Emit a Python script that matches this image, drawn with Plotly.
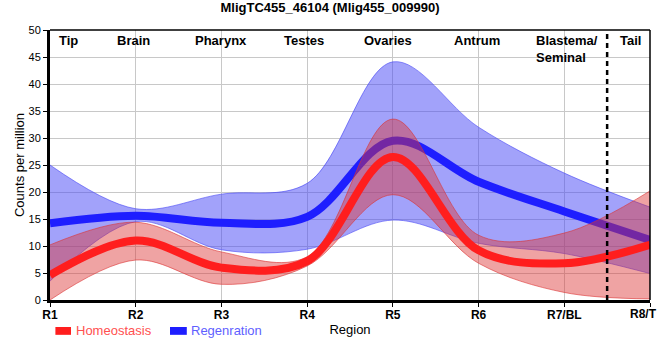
import plotly.graph_objects as go

# ---- data ----
regions = ["R1", "R2", "R3", "R4", "R5", "R6", "R7/BL", "R8/T"]
region_pos = [1, 2, 3, 4, 5, 6, 7, 8]

homeo_mean = [4.6, 11.0, 6.0, 7.2, 26.5, 9.2, 6.8, 10.2]
homeo_upper = [10.2, 14.4, 8.9, 8.0, 33.5, 12.0, 12.4, 20.2]
homeo_lower = [0.0, 7.4, 2.9, 6.3, 19.5, 6.8, 1.4, 0.2]

regen_mean = [14.2, 15.6, 14.3, 15.4, 29.5, 21.9, 16.4, 11.1]
regen_upper = [25.0, 16.9, 19.6, 21.6, 44.1, 32.0, 23.5, 17.2]
regen_lower = [3.5, 14.5, 9.3, 9.4, 14.8, 10.5, 8.6, 4.9]

anatomy_labels = ["Tip", "Brain", "Pharynx", "Testes", "Ovaries", "Antrum",
                  "Blastema/<br>Seminal", "Tail"]
boundary_x = 7.5

# ---- styling ----
RED = "rgb(255,30,30)"
BLUE = "rgb(30,30,255)"
RED_FILL = "rgba(220,50,50,0.45)"
BLUE_FILL = "rgba(70,70,245,0.5)"
FONT = "Liberation Sans, Arial, sans-serif"

fig = go.Figure()

def band(lower, upper, fill, edge):
    fig.add_trace(go.Scatter(x=region_pos, y=lower, mode="lines",
                             line=dict(color=edge, width=1, shape="spline", smoothing=1),
                             showlegend=False, hoverinfo="skip"))
    fig.add_trace(go.Scatter(x=region_pos, y=upper, mode="lines", fill="tonexty",
                             fillcolor=fill,
                             line=dict(color=edge, width=1, shape="spline", smoothing=1),
                             showlegend=False, hoverinfo="skip"))

band(regen_lower, regen_upper, BLUE_FILL, "rgba(70,70,245,0.6)")
fig.add_trace(go.Scatter(x=region_pos, y=regen_mean, mode="lines", name="Regenration",
                         line=dict(color=BLUE, width=8, shape="spline", smoothing=1),
                         showlegend=False))
band(homeo_lower, homeo_upper, RED_FILL, "rgba(220,50,50,0.6)")
fig.add_trace(go.Scatter(x=region_pos, y=homeo_mean, mode="lines", name="Homeostasis",
                         line=dict(color=RED, width=8, shape="spline", smoothing=1),
                         showlegend=False))

# anatomical labels along the top
label_x = [1.22, 1.97, 2.99, 3.96, 4.94, 5.98, 6.65, 7.77]
annotations = []
for lab, lx in zip(anatomy_labels, label_x):
    multi = "<br>" in lab
    annotations.append(dict(x=lx, y=1.0, xref="x", yref="paper", text="<b>" + lab + "</b>",
                            showarrow=False, xanchor="left" if multi else "center",
                            yanchor="top", align="left", yshift=-1,
                            font=dict(size=13, color="black", family=FONT)))

# last region tick label, nudged left so it stays inside the picture
annotations.append(dict(x=region_pos[-1], y=0, xref="x", yref="paper",
                        text="<b>" + regions[-1] + "</b>", showarrow=False,
                        xanchor="right", yanchor="top", yshift=-5, xshift=9,
                        font=dict(size=12, color="black", family=FONT)))

# manual legend
annotations.append(dict(x=0.04, y=-0.114, xref="paper", yref="paper", text="Homeostasis",
                        showarrow=False, xanchor="left", yanchor="middle",
                        font=dict(size=13, color="rgb(255,80,80)", family=FONT)))
annotations.append(dict(x=0.232, y=-0.114, xref="paper", yref="paper", text="Regenration",
                        showarrow=False, xanchor="left", yanchor="middle",
                        font=dict(size=13, color="rgb(95,95,255)", family=FONT)))

shapes = [
    dict(type="rect", xref="paper", yref="paper", x0=0.009, x1=0.035, y0=-0.1, y1=-0.129,
         fillcolor=RED, line=dict(width=0)),
    dict(type="rect", xref="paper", yref="paper", x0=0.2, x1=0.228, y0=-0.1, y1=-0.129,
         fillcolor=BLUE, line=dict(width=0)),
    dict(type="line", xref="x", yref="paper", x0=boundary_x, x1=boundary_x, y0=0, y1=1,
         line=dict(color="black", width=2.5, dash="5px,4px"), layer="above"),
    dict(type="line", xref="paper", yref="paper", x0=0, x1=1, y0=1, y1=1,
         line=dict(color="black", width=1.5)),
    dict(type="line", xref="paper", yref="paper", x0=1, x1=1, y0=0, y1=1,
         line=dict(color="black", width=1.5)),
]

fig.update_layout(
    width=660, height=360,
    margin=dict(l=50, r=10, t=30, b=60, autoexpand=False),
    paper_bgcolor="white", plot_bgcolor="white",
    font=dict(family=FONT, color="black"),
    title=dict(text="<b>MligTC455_46104 (Mlig455_009990)</b>", x=0.5, xanchor="center",
               y=0.978, yanchor="middle", font=dict(size=13, color="black", family=FONT)),
    showlegend=False,
    annotations=annotations,
    shapes=shapes,
)

tick_text = ["<b>" + r + "</b>" for r in regions[:-1]] + [""]
fig.update_xaxes(range=[1, 8], tickvals=region_pos, ticktext=tick_text,
                 tickfont=dict(size=12, color="black", family=FONT),
                 showgrid=True, gridcolor="rgb(200,200,200)", gridwidth=1,
                 showline=True, linecolor="black", linewidth=3,
                 ticks="outside", ticklen=4, tickcolor="black",
                 ticklabelstandoff=-2,
                 zeroline=False, automargin=False,
                 title=dict(text="Region", font=dict(size=13, color="black", family=FONT),
                            standoff=4))
fig.update_yaxes(range=[0, 50], dtick=5,
                 tickfont=dict(size=11, color="black", family=FONT),
                 showgrid=True, gridcolor="rgb(200,200,200)", gridwidth=1,
                 showline=True, linecolor="black", linewidth=3,
                 ticks="outside", ticklen=4, tickcolor="black",
                 zeroline=False, automargin=False,
                 title=dict(text="Counts per million", font=dict(size=13, color="black", family=FONT),
                            standoff=1))

fig.write_html("out.html", config={"displayModeBar": False},
               post_script="document.body.style.margin='0';document.body.style.overflow='hidden';")
